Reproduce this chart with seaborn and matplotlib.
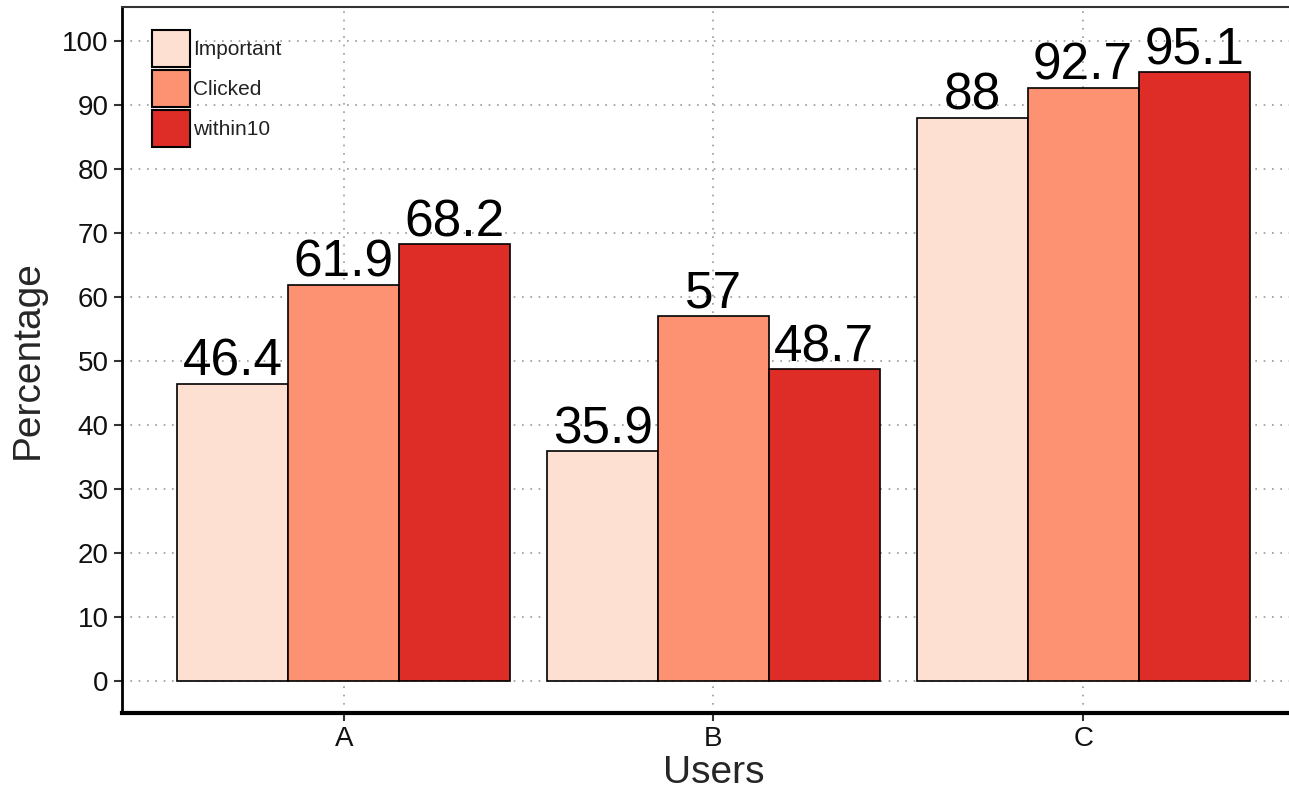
import matplotlib
matplotlib.use("Agg")
import matplotlib.pyplot as plt
import seaborn as sns
import pandas as pd

# data
users = ["A", "B", "C"]
important = [46.4, 35.9, 88]
clicked = [61.9, 57, 92.7]
within10 = [68.2, 48.7, 95.1]
groups = ["Important", "Clicked", "within10"]
colors = ["#fee0d2", "#fc9272", "#de2d26"]

df = pd.DataFrame({
    "Users": users * 3,
    "Percentage": important + clicked + within10,
    "group": [g for g in groups for _ in users],
})

sns.set_style("white")
plt.rcParams["font.family"] = ["Liberation Sans", "DejaVu Sans"]

fig = plt.figure(figsize=(12.89, 7.99), dpi=100)
ax = fig.add_axes([0.0946, 0.1076, 0.9178, 0.8836])

sns.barplot(data=df, x="Users", y="Percentage", hue="group", hue_order=groups,
            palette=colors, width=0.9, edgecolor="black", linewidth=1.2,
            saturation=1, ax=ax, zorder=3)

# value labels on top of bars
for cont in ax.containers:
    ax.bar_label(cont, fmt="%g", fontsize=37, padding=-2, color="black")

ax.set_xlim(-0.6, 2.6)
ax.set_ylim(-5, 105.3)
ax.set_yticks(range(0, 101, 10))

# dotted grid behind the bars
ax.grid(True, linestyle=(0, (1, 4)), color="#999999", linewidth=1.2, zorder=0)
ax.set_axisbelow(True)

ax.tick_params(axis="both", labelsize=20, length=6, width=1.5, color="#333333",
               labelcolor="#111111", direction="out", left=True, bottom=True)
ax.set_xlabel("Users", fontsize=28, labelpad=2)
ax.set_ylabel("Percentage", fontsize=28, labelpad=12)

ax.spines["left"].set_linewidth(2)
ax.spines["left"].set_color("black")
ax.spines["bottom"].set_linewidth(3)
ax.spines["bottom"].set_color("black")
ax.spines["top"].set_linewidth(1.5)
ax.spines["top"].set_color("#333333")
ax.spines["right"].set_visible(False)

leg = ax.legend(title=None, loc="upper left", bbox_to_anchor=(0.0254, 0.9674),
                frameon=False, fontsize=15, handlelength=1.83, handleheight=2.36,
                handletextpad=0.15, labelspacing=0.14, borderaxespad=0,
                borderpad=0)
for h in leg.legend_handles:
    h.set_edgecolor("black")
    h.set_linewidth(1.5)
for t in leg.get_texts():
    t.set_color("#222222")

fig.savefig("out.png", dpi=100)
